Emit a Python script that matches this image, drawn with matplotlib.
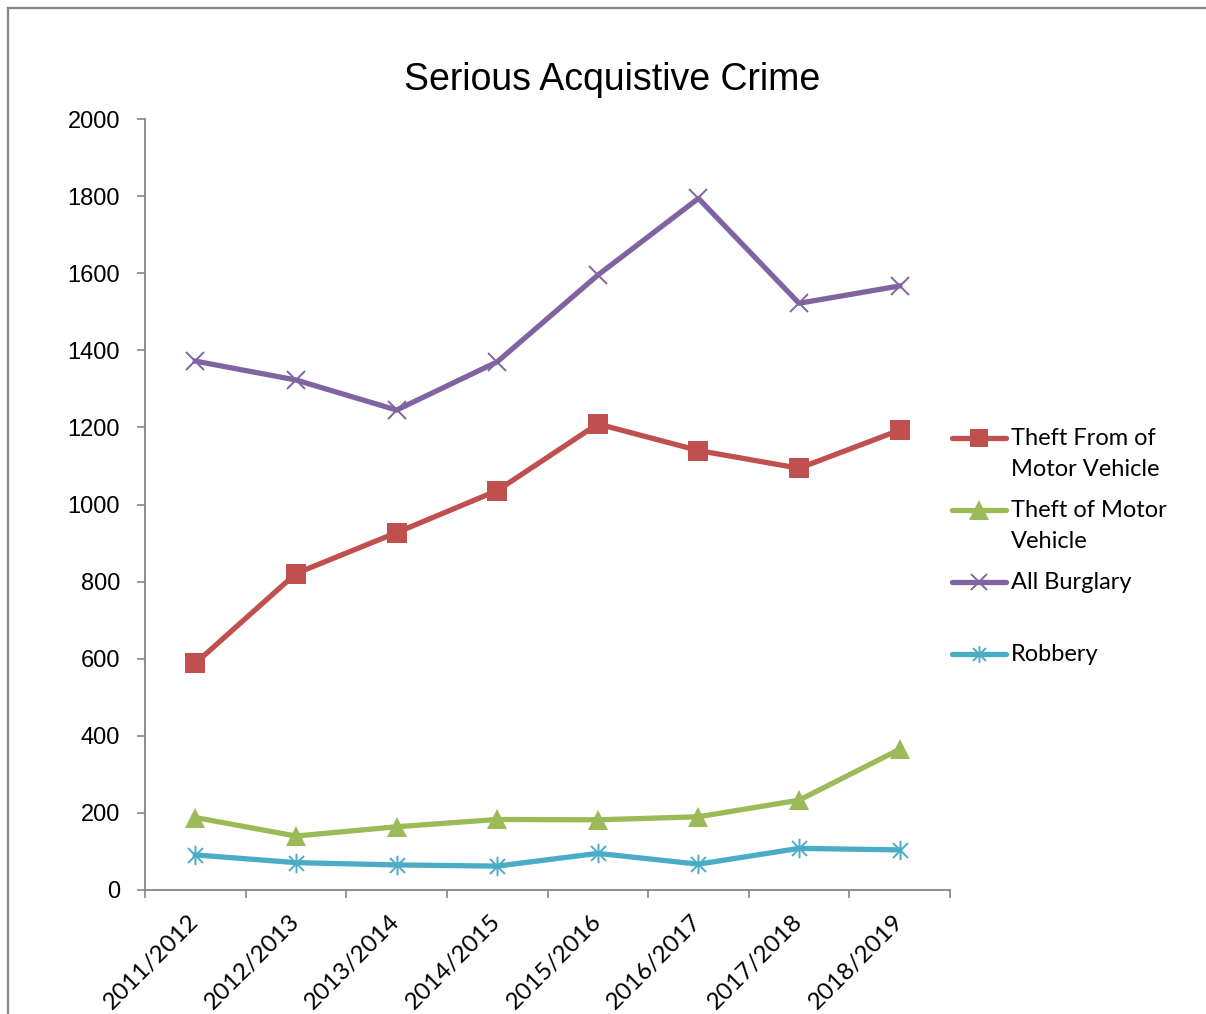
import matplotlib
matplotlib.use("Agg")
import matplotlib.pyplot as plt
from matplotlib.lines import Line2D
from matplotlib.path import Path
from matplotlib.patches import Rectangle

years = ["2011/2012", "2012/2013", "2013/2014", "2014/2015",
         "2015/2016", "2016/2017", "2017/2018", "2018/2019"]
theft_from_mv = [588, 821, 927, 1036, 1209, 1140, 1094, 1193]
theft_of_mv = [188, 140, 164, 183, 182, 190, 233, 365]
all_burglary = [1372, 1323, 1245, 1370, 1595, 1794, 1522, 1567]
robbery = [91, 71, 65, 62, 95, 67, 108, 104]
y_ticks = [0, 200, 400, 600, 800, 1000, 1200, 1400, 1600, 1800, 2000]

RED = "#C0504D"
GREEN = "#9BBB59"
PURPLE = "#8064A2"
BLUE = "#4BACC6"
AXIS_GREY = "#868686"

# six-armed asterisk: an X plus a vertical bar
asterisk = Path(
    [(-1, -1), (1, 1), (-1, 1), (1, -1), (0, -1.3), (0, 1.3)],
    [Path.MOVETO, Path.LINETO, Path.MOVETO, Path.LINETO, Path.MOVETO, Path.LINETO],
)

W, H = 1206, 1014
fig = plt.figure(figsize=(W / 100, H / 100), dpi=100)
ax = fig.add_axes([145 / W, 1 - 890 / H, (950 - 145) / W, (890 - 119) / H])

x = list(range(len(years)))
series = [
    ("Theft From of\nMotor Vehicle", theft_from_mv, RED,
     dict(marker="s", markersize=14, markeredgewidth=0)),
    ("Theft of Motor\nVehicle", theft_of_mv, GREEN,
     dict(marker="^", markersize=15, markeredgewidth=0)),
    ("All Burglary", all_burglary, PURPLE,
     dict(marker="x", markersize=13, markeredgewidth=1.4)),
    ("Robbery", robbery, BLUE,
     dict(marker=asterisk, markersize=14, markeredgewidth=1.4)),
]
for label, vals, color, mk in series:
    ax.plot(x, vals, color=color, linewidth=3.8, markeredgecolor=color,
            markerfacecolor=color, solid_joinstyle="round",
            **mk, clip_on=False, zorder=3)

ax.set_xlim(-0.5, len(years) - 0.5)
ax.set_ylim(0, 2000)
ax.set_yticks(y_ticks)
ax.set_yticklabels([str(v) for v in y_ticks], fontfamily="Liberation Sans", fontsize=17)

ax.set_xticks(x)
ax.set_xticklabels(years, rotation=45, ha="right", va="center", rotation_mode="anchor",
                   fontfamily="Lato", fontsize=17.5)
ax.set_xticks([i - 0.5 for i in range(len(years) + 1)], minor=True)
ax.tick_params(axis="x", which="major", length=0, pad=20)
ax.tick_params(axis="x", which="minor", length=6, width=1.2, color=AXIS_GREY, direction="out")
ax.tick_params(axis="y", length=6, width=1.2, color=AXIS_GREY, direction="out", pad=12)

for side in ("top", "right"):
    ax.spines[side].set_visible(False)
for side in ("left", "bottom"):
    ax.spines[side].set_color(AXIS_GREY)
    ax.spines[side].set_linewidth(1.3)

fig.text(612 / W, 1 - 80 / H, "Serious Acquistive Crime", ha="center", va="center",
         fontfamily="Liberation Sans", fontsize=27)

# legend, drawn entry by entry so the key sits beside the first text line
legend_rows = [438, 510, 582, 654]
legend_markers = [
    {"marker": "s", "markersize": 13, "markeredgewidth": 0},
    {"marker": "^", "markersize": 14, "markeredgewidth": 0},
    {"marker": "x", "markersize": 12, "markeredgewidth": 1.4},
    {"marker": asterisk, "markersize": 12, "markeredgewidth": 1.4},
]
for (label, vals, color, mk), row, style in zip(series, legend_rows, legend_markers):
    yf = 1 - row / H
    fig.add_artist(Line2D([952 / W, 1006 / W], [yf, yf], color=color, linewidth=3.8,
                          solid_capstyle="round", transform=fig.transFigure))
    fig.add_artist(Line2D([979 / W], [yf], color=color, linestyle="none",
                          markeredgecolor=color, markerfacecolor=color,
                          transform=fig.transFigure, **style))
    fig.text(1011 / W, yf + 10 / H, label, ha="left", va="top", fontfamily="Lato",
             fontsize=17, linespacing=1.6)

# chart frame
fig.add_artist(Rectangle((8 / W, -0.1), 1.2, 1 - 8 / H + 0.1, transform=fig.transFigure,
                         fill=False, edgecolor=AXIS_GREY, linewidth=1.6))

fig.savefig("out.png", dpi=100)
